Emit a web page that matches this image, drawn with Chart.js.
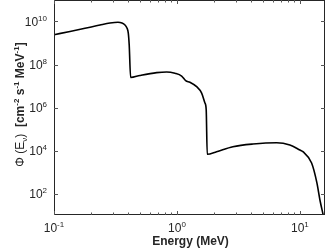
<!DOCTYPE html>
<html>
<head>
<meta charset="utf-8">
<script src="https://cdn.jsdelivr.net/npm/chart.js"></script>
<style>
  html, body { margin: 0; padding: 0; background: #fff; }
  #wrap { width: 326px; height: 250px; position: relative; }
</style>
</head>
<body>
<div id="wrap"><canvas id="spectrum"></canvas></div>
<script>
// Spectrum values
const energy = [0.1, 0.1349, 0.1787, 0.2366, 0.2853, 0.3314, 0.357, 0.3777, 0.392, 0.402, 0.409, 0.42,
  0.5, 0.684, 0.825, 0.963, 1.092, 1.177, 1.275, 1.446, 1.588, 1.689, 1.73, 1.763,
  2.10, 2.85, 4.15, 6.47, 8.29, 10, 10.58, 12.45, 13.75, 14.55, 15.47];
const flux = [2.43e9, 3.43e9, 4.83e9, 6.87e9, 8.5e9, 9.2e9, 8.5e9, 6.87e9, 4.99e9, 2.9e9, 8.1e8, 2.5e7,
  3.1e7, 4.2e7, 4.5e7, 3.9e7, 2.9e7, 1.77e7, 1.49e7, 9.3e6, 4.7e6, 1.62e6, 7.7e5, 6.65e3,
  8.8e3, 1.5e4, 2.0e4, 2.3e4, 1.8e4, 1.05e4, 8.8e3, 2.6e3, 3.1e2, 50, 10];

// Axis ticks
const xTicks = [0.1, 1, 10];
const xTickExp = ['-1', '0', '1'];
const xMinorTicks = [0.2, 0.3, 0.4, 0.5, 0.6, 0.7, 0.8, 0.9, 2, 3, 4, 5, 6, 7, 8, 9];
const yTicks = [1e2, 1e4, 1e6, 1e8, 1e10];
const yTickExp = ['2', '4', '6', '8', '10'];

const FONT = '"Liberation Sans", Arial, sans-serif';
const INK = '#262626';

// draw a row of text runs (base/super/sub) centred or right aligned at x
function drawRuns(ctx, runs, x, y, align) {
  let total = 0;
  runs.forEach(r => { ctx.font = r.font; total += ctx.measureText(r.text).width; });
  let cx = align === 'right' ? x - total : x - total / 2;
  ctx.textAlign = 'left';
  ctx.textBaseline = 'alphabetic';
  runs.forEach(r => {
    ctx.font = r.font;
    ctx.fillText(r.text, cx, y + (r.dy || 0));
    cx += ctx.measureText(r.text).width;
  });
}

const axesPlugin = {
  id: 'matlabAxes',
  afterDraw(chart) {
    const ctx = chart.ctx;
    const a = chart.chartArea;
    const xs = chart.scales.x, ys = chart.scales.y;
    ctx.save();
    ctx.strokeStyle = INK;
    ctx.lineWidth = 1;

    // box
    ctx.strokeRect(a.left + 0.5, a.top + 0.5, a.right - a.left - 1, a.bottom - a.top - 1);

    // tick marks
    ctx.beginPath();
    const tickX = (v, len) => {
      const px = Math.round(xs.getPixelForValue(v)) + 0.5;
      ctx.moveTo(px, a.bottom); ctx.lineTo(px, a.bottom - len);
      ctx.moveTo(px, a.top); ctx.lineTo(px, a.top + len);
    };
    xTicks.forEach(v => tickX(v, 4));
    xMinorTicks.forEach(v => tickX(v, 2.5));
    yTicks.forEach(v => {
      const py = Math.round(ys.getPixelForValue(v)) + 0.5;
      ctx.moveTo(a.left, py); ctx.lineTo(a.left + 4, py);
      ctx.moveTo(a.right, py); ctx.lineTo(a.right - 4, py);
    });
    ctx.strokeStyle = '#555';
    ctx.stroke();

    // tick labels
    ctx.fillStyle = INK;
    const base = '12px ' + FONT, sup = '8px ' + FONT;
    xTicks.forEach((v, i) => {
      drawRuns(ctx, [{ text: '10', font: base }, { text: xTickExp[i], font: sup, dy: -5 }],
        xs.getPixelForValue(v), a.bottom + 17, 'center');
    });
    yTicks.forEach((v, i) => {
      drawRuns(ctx, [{ text: '10', font: base }, { text: yTickExp[i], font: sup, dy: -5 }],
        47, ys.getPixelForValue(v) + 4.5, 'right');
    });

    // x title
    ctx.font = 'bold 12px ' + FONT;
    ctx.textAlign = 'center';
    ctx.fillText('Energy (MeV)', (a.left + a.right) / 2 + 1, 245);

    // y title
    ctx.translate(24, 104.5);
    ctx.rotate(-Math.PI / 2);
    const b = 'bold 12px ' + FONT, bs = 'bold 8px ' + FONT;
    drawRuns(ctx, [
      { text: '\u03A6 (E', font: '12px ' + FONT },
      { text: '\u03BD', font: '8px ' + FONT, dy: 3 },
      { text: ')  ', font: '12px ' + FONT },
      { text: '[cm', font: b }, { text: '-2', font: bs, dy: -5 },
      { text: ' s', font: b }, { text: '-1', font: bs, dy: -5 },
      { text: ' MeV', font: b }, { text: '-1', font: bs, dy: -5 },
      { text: ']', font: b }
    ], 0, 0, 'center');
    ctx.restore();
  }
};

new Chart(document.getElementById('spectrum'), {
  type: 'line',
  data: {
    datasets: [{
      data: energy.map((e, i) => ({ x: e, y: flux[i] })),
      borderColor: '#000',
      borderWidth: 1.6,
      pointRadius: 0,
      fill: false,
      cubicInterpolationMode: 'monotone'
    }]
  },
  options: {
    responsive: true,
    maintainAspectRatio: false,
    animation: false,
    events: [],
    layout: { padding: { top: 0, right: 1, bottom: 0, left: 0 } },
    plugins: { legend: { display: false }, tooltip: { enabled: false } },
    scales: {
      x: {
        type: 'logarithmic', min: 0.1, max: 16,
        grid: { display: false }, border: { display: false },
        ticks: { display: false },
        afterFit: s => { s.height = 35; }
      },
      y: {
        type: 'logarithmic', min: 10, max: 1e11,
        grid: { display: false }, border: { display: false },
        ticks: { display: false },
        afterFit: s => { s.width = 54; }
      }
    }
  },
  plugins: [axesPlugin]
});
</script>
</body>
</html>
